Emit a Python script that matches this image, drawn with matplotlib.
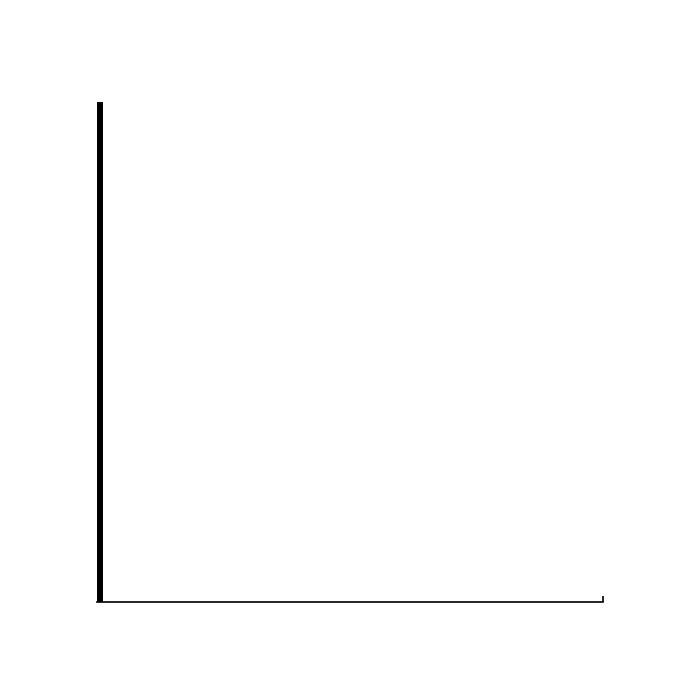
import numpy as np
import matplotlib.pyplot as plt

# a single full-height bar at the left edge
positions = [0.0]
values = [1.0]
x_max = 1.0

fig = plt.figure(figsize=(7, 7), dpi=100)
ax = fig.add_axes([97 / 700, 98 / 700, 506 / 700, 500 / 700])

ax.bar(positions, values, width=6 / 506, align="edge", color="black", linewidth=0)

ax.set_xlim(0, x_max)
ax.set_ylim(0, 1)

for side in ["top", "right", "left"]:
    ax.spines[side].set_visible(False)
ax.spines["bottom"].set_linewidth(1.2)
ax.spines["bottom"].set_color("black")

ax.set_xticks([x_max])
ax.set_xticklabels([])
ax.tick_params(axis="x", direction="in", length=4, width=1.2, color="black")
ax.set_yticks([])

fig.savefig("out.png", dpi=100)
